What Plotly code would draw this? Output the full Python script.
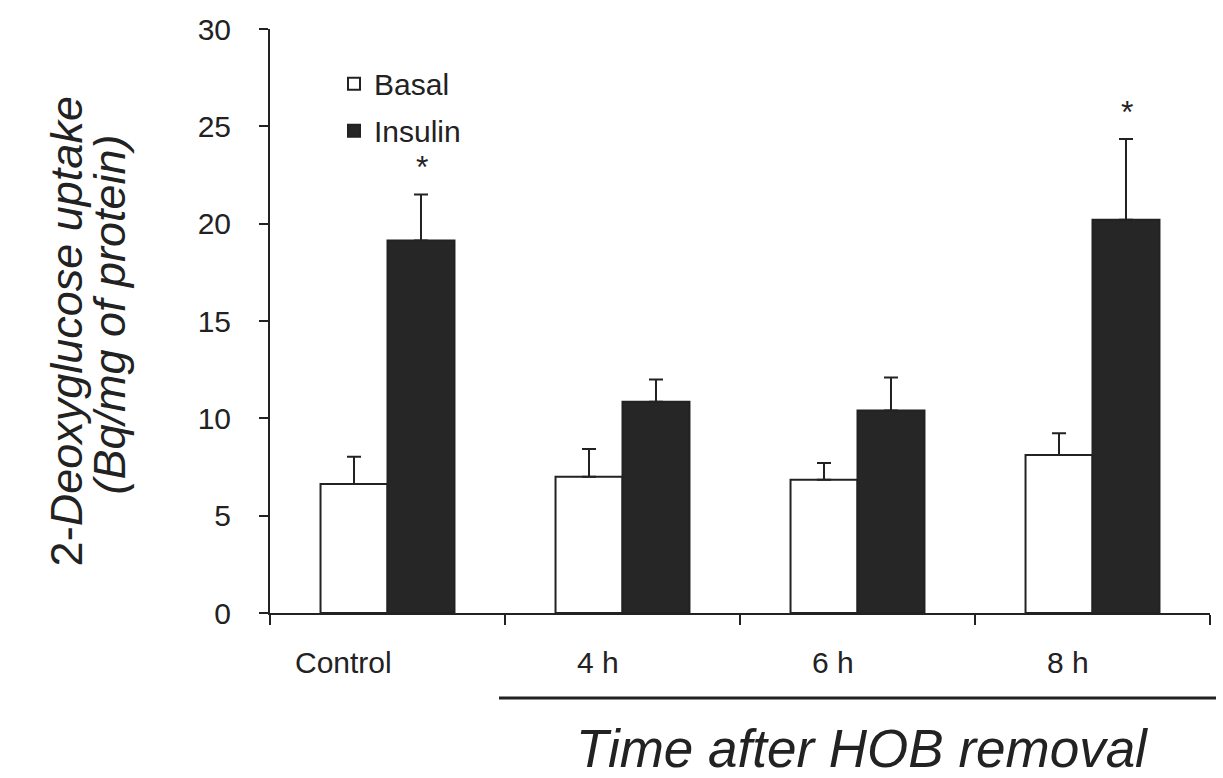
import plotly.graph_objects as go

categories = ["Control", "4 h", "6 h", "8 h"]
basal = [6.63, 7.0, 6.85, 8.12]
basal_err = [1.4, 1.43, 0.85, 1.12]
insulin = [19.14, 10.85, 10.4, 20.2]
insulin_err = [2.36, 1.15, 1.7, 4.15]
sig_insulin = [True, False, False, True]
y_ticks = [0, 5, 10, 15, 20, 25, 30]

INK = "#222222"
FONT = "Liberation Sans, Arial, sans-serif"

# layout geometry (pixels)
W, H = 1223, 778
ML, MR, MT, MB = 270, 13, 22, 165
PW, PH = W - ML - MR, H - MT - MB


def px_x(p):
    return (p - ML) / PW


def px_y(p):
    return (H - MB - p) / PH


fig = go.Figure()
fig.add_trace(go.Bar(
    x=categories, y=basal, name="Basal", legendgroup="b",
    marker=dict(color="white", line=dict(color=INK, width=2)),
    error_y=dict(type="data", symmetric=False, array=basal_err,
                 arrayminus=[0] * len(basal), color=INK, thickness=2, width=7),
))
fig.add_trace(go.Bar(
    x=categories, y=insulin, name="Insulin", legendgroup="i",
    marker=dict(color="#262626", line=dict(color=INK, width=2)),
    error_y=dict(type="data", symmetric=False, array=insulin_err,
                 arrayminus=[0] * len(insulin), color=INK, thickness=2, width=7),
))

annotations = []
# category labels (slightly left of group centre as in the original)
label_shift = [-44, -25, -25, -25]
for c, s in zip(categories, label_shift):
    annotations.append(dict(
        x=c, xref="x", y=px_y(663), yref="paper", text=c, showarrow=False,
        xshift=s, font=dict(family=FONT, size=30, color=INK),
        xanchor="center", yanchor="middle"))
# asterisks
for c, v, e, s in zip(categories, insulin, insulin_err, sig_insulin):
    if s:
        annotations.append(dict(
            x=c, xref="x", y=v + e, yref="y", text="*", showarrow=False,
            xshift=34, yshift=7, font=dict(family=FONT, size=32, color=INK),
            xanchor="center", yanchor="bottom"))
# y-axis title (two lines, rotated)
annotations.append(dict(
    x=px_x(66), xref="paper", y=px_y(328), yref="paper",
    text="2-<i>Deoxyglucose uptake</i>", textangle=-90, showarrow=False,
    font=dict(family=FONT, size=45, color=INK), xanchor="center", yanchor="middle"))
annotations.append(dict(
    x=px_x(110), xref="paper", y=px_y(311), yref="paper",
    text="<i>(Bq/mg of protein)</i>", textangle=-90, showarrow=False,
    font=dict(family=FONT, size=45, color=INK), xanchor="center", yanchor="middle"))
# x title
annotations.append(dict(
    x=px_x(862), xref="paper", y=px_y(750), yref="paper",
    text="<i>Time after HOB removal</i>", showarrow=False,
    font=dict(family=FONT, size=53, color=INK), xanchor="center", yanchor="middle"))

shapes = [dict(type="line", xref="paper", yref="paper",
               x0=px_x(499), x1=px_x(1216), y0=px_y(699), y1=px_y(699),
               line=dict(color=INK, width=3))]

fig.update_layout(
    width=W, height=H,
    margin=dict(l=ML, r=MR, t=MT, b=MB, pad=0),
    paper_bgcolor="white", plot_bgcolor="white",
    barmode="group", bargap=0.43, bargroupgap=0,
    font=dict(family=FONT, size=30, color=INK),
    showlegend=True,
    legend=dict(x=px_x(334), y=px_y(51), xanchor="left", yanchor="top",
                bgcolor="rgba(0,0,0,0)", borderwidth=0, tracegroupgap=5,
                font=dict(family=FONT, size=30, color=INK)),
    xaxis=dict(showline=True, linecolor=INK, linewidth=2, ticks="outside",
               tickson="boundaries", ticklen=10, tickwidth=2, tickcolor=INK,
               showticklabels=False, showgrid=False, zeroline=False,
               range=[-0.5, 3.5]),
    yaxis=dict(range=[0, 30], tickvals=y_ticks, showline=True, linecolor=INK,
               linewidth=2, ticks="outside", ticklen=9, tickwidth=2, tickcolor=INK,
               showgrid=False, zeroline=False, tickfont=dict(size=30),
               ticklabelstandoff=22),
    annotations=annotations, shapes=shapes,
)

fig.write_html("out.html")
